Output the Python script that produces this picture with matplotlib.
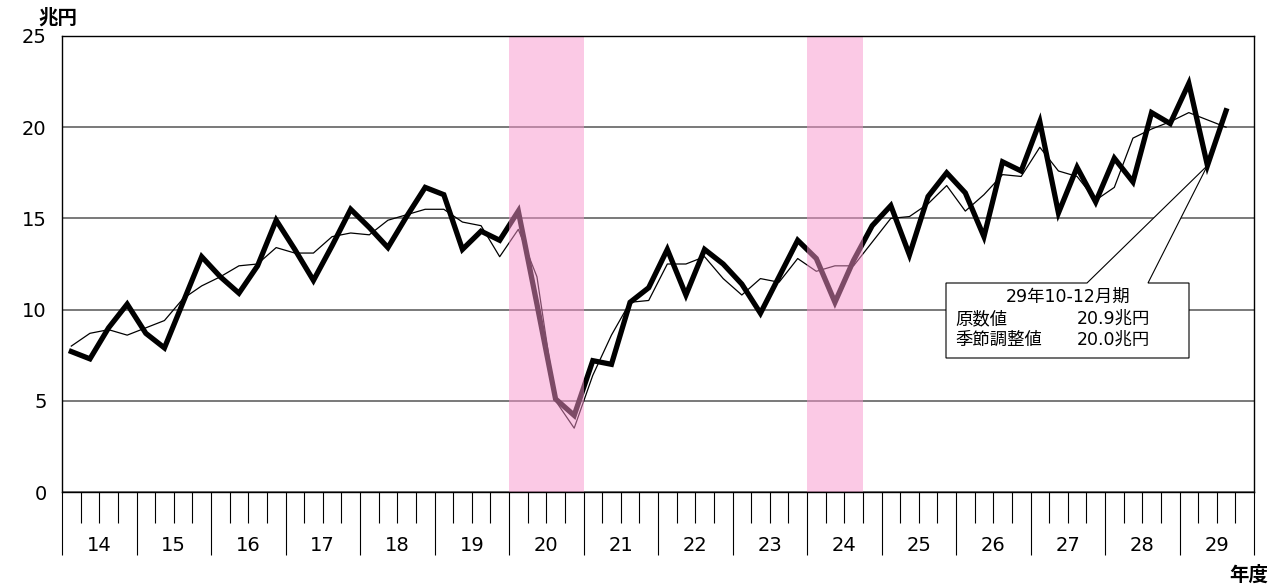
import numpy as np
import matplotlib.pyplot as plt
from matplotlib.patches import Polygon
from matplotlib.ticker import MultipleLocator, NullFormatter
import matplotlib.transforms as mtransforms

plt.rcParams['font.family'] = ['DejaVu Sans', 'Noto Sans CJK JP']

# fiscal years (Heisei) and quarterly values, 14Q1 .. 29Q3
years = ['14', '15', '16', '17', '18', '19', '20', '21',
         '22', '23', '24', '25', '26', '27', '28', '29']
raw = [7.7, 7.3, 9.0, 10.3, 8.7, 7.9, 10.4, 12.9, 11.8, 10.9, 12.4, 14.9,
       13.3, 11.6, 13.5, 15.5, 14.5, 13.4, 15.1, 16.7, 16.3, 13.3, 14.3, 13.8,
       15.4, 10.3, 5.1, 4.2, 7.2, 7.0, 10.4, 11.2, 13.3, 10.8, 13.3, 12.5,
       11.4, 9.8, 11.8, 13.8, 12.8, 10.4, 12.7, 14.6, 15.7, 13.0, 16.2, 17.5,
       16.4, 14.0, 18.1, 17.6, 20.3, 15.3, 17.8, 15.9, 18.3, 17.0, 20.8, 20.2,
       22.4, 17.9, 20.9]
sa = [8.0, 8.7, 8.9, 8.6, 9.0, 9.4, 10.6, 11.3, 11.8, 12.4, 12.5, 13.4,
      13.1, 13.1, 14.0, 14.2, 14.1, 14.9, 15.2, 15.5, 15.5, 14.8, 14.6, 12.9,
      14.4, 11.8, 5.0, 3.5, 6.4, 8.6, 10.4, 10.5, 12.5, 12.5, 12.9, 11.7,
      10.8, 11.7, 11.5, 12.8, 12.1, 12.4, 12.4, 13.7, 15.0, 15.1, 15.8, 16.8,
      15.4, 16.3, 17.4, 17.3, 18.9, 17.6, 17.3, 16.0, 16.7, 19.4, 19.9, 20.3,
      20.8, 20.4, 20.0]
# shaded periods in quarter slots (start, end)
shade = [(24, 28), (40, 43)]

xs = np.arange(len(raw)) + 0.5

fig = plt.figure(figsize=(12.84, 5.87), dpi=100)
ax = fig.add_axes([62 / 1284, 1 - 492 / 587, 1192 / 1284, 456 / 587])

ax.plot(xs, sa, color='black', lw=0.9, zorder=1)
ax.plot(xs, raw, color='black', lw=3.8, solid_joinstyle='miter', zorder=1.2)

for a, b in shade:
    ax.axvspan(a, b, color=(248 / 255, 148 / 255, 204 / 255), alpha=0.5,
               lw=0, zorder=1.8)

ax.set_xlim(0, 64)
ax.set_ylim(0, 25)
ax.set_yticks(range(0, 26, 5))
ax.yaxis.grid(True, color='#555555', lw=1.1)
ax.set_axisbelow(True)
ax.tick_params(axis='y', length=0, pad=11, labelsize=14)

ax.xaxis.set_major_locator(MultipleLocator(4))
ax.xaxis.set_minor_locator(MultipleLocator(1))
ax.xaxis.set_major_formatter(NullFormatter())
ax.tick_params(axis='x', which='major', direction='out', length=45,
               width=0.8, color='black')
ax.tick_params(axis='x', which='minor', direction='out', length=22.5,
               width=0.8, color='black')

for sp in ax.spines.values():
    sp.set_color('black')
    sp.set_linewidth(1.0)

trans = mtransforms.blended_transform_factory(ax.transData, ax.transAxes)
for k, y in enumerate(years):
    ax.text(4 * k + 2, -0.118, y, transform=trans, ha='center', va='center',
            fontsize=14)

fig.text(38 / 1284, 1 - 18 / 587, '兆円', fontsize=14, ha='left',
         va='center', fontweight='bold')
fig.text(1268 / 1284, 1 - 575 / 587, '年度', fontsize=14, ha='right',
         va='center', fontweight='bold')

# callout box
def px(x, y):
    return ((x - 62) / 1192 * 64, (492 - y) / 456 * 25)

tip = (xs[61], raw[61])
box = [px(946, 283), px(1087, 283), tip, px(1148, 283), px(1189, 283),
       px(1189, 358), px(946, 358)]
ax.add_patch(Polygon(box, closed=True, facecolor='white', edgecolor='black',
                     lw=0.8, zorder=3))
fs = 12.5
tx, ty = px(1068, 297)
ax.text(tx, ty, '29年10-12月期', ha='center', va='center', fontsize=fs,
        zorder=4)
tx, ty = px(955, 319)
ax.text(tx, ty, '原数値', ha='left', va='center', fontsize=fs, zorder=4)
tx, ty = px(1150, 319)
ax.text(tx, ty, '20.9兆円', ha='right', va='center', fontsize=fs, zorder=4)
tx, ty = px(955, 340)
ax.text(tx, ty, '季節調整値', ha='left', va='center', fontsize=fs, zorder=4)
tx, ty = px(1150, 340)
ax.text(tx, ty, '20.0兆円', ha='right', va='center', fontsize=fs, zorder=4)

fig.savefig('out.png', dpi=100)
